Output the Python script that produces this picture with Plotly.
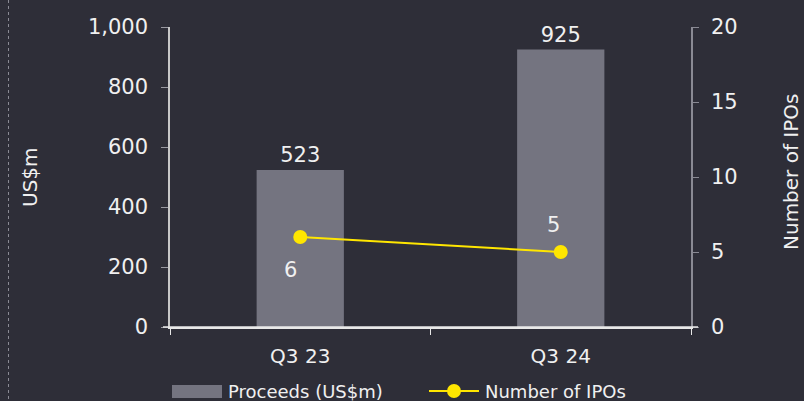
import plotly.graph_objects as go

categories = ["Q3 23", "Q3 24"]
proceeds = [523, 925]
ipos = [6, 5]
left_ticks = [0, 200, 400, 600, 800, 1000]
right_ticks = [0, 5, 10, 15, 20]

BG = "#2e2e38"
BAR = "#747480"
YEL = "#ffe600"
TXT = "#f0f0f0"
FONT = "DejaVu Sans"

W, H = 804, 401
ML, MR, MT, MB = 170, 113, 27, 74
PW, PH = W - ML - MR, H - MT - MB

def px(x):
    return (x - ML) / PW

def py(y):
    return (H - MB - y) / PH

fig = go.Figure()
fig.add_trace(go.Bar(
    x=categories, y=proceeds, marker=dict(color=BAR, line=dict(width=0)),
    width=0.335, text=[f"{v:,}" for v in proceeds], textposition="outside",
    textfont=dict(color=TXT, size=21, family=FONT), cliponaxis=False,
    showlegend=False, yaxis="y"))
fig.add_trace(go.Scatter(
    x=categories, y=ipos, mode="lines+markers", yaxis="y2",
    line=dict(color=YEL, width=2), marker=dict(color=YEL, size=14),
    showlegend=False, cliponaxis=False))

annotations = []
offsets = [(-10, -33), (-7, 27)]
for c, v, (dx, dy) in zip(categories, ipos, offsets):
    annotations.append(dict(x=c, y=v, xref="x", yref="y2", text=str(v), showarrow=False,
                            xshift=dx, yshift=dy, font=dict(color=TXT, size=21, family=FONT)))

annotations.append(dict(x=px(30), y=py(177), xref="paper", yref="paper", text="US$m",
                        textangle=-90, showarrow=False, font=dict(color=TXT, size=20, family=FONT),
                        xanchor="center", yanchor="middle"))
annotations.append(dict(x=px(791), y=py(172), xref="paper", yref="paper", text="Number of IPOs",
                        textangle=-90, showarrow=False, font=dict(color=TXT, size=20, family=FONT),
                        xanchor="center", yanchor="middle"))
# custom legend
annotations.append(dict(x=px(226), y=py(391), xref="paper", yref="paper", text="Proceeds (US$m)",
                        showarrow=False, xanchor="left", yanchor="middle",
                        font=dict(color=TXT, size=18, family=FONT)))
annotations.append(dict(x=px(483), y=py(391), xref="paper", yref="paper", text="Number of IPOs",
                        showarrow=False, xanchor="left", yanchor="middle",
                        font=dict(color=TXT, size=18, family=FONT)))

shapes = [
    dict(type="rect", xref="paper", yref="paper", x0=px(172), x1=px(222), y0=py(385), y1=py(398),
         fillcolor=BAR, line=dict(width=0)),
    dict(type="line", xref="paper", yref="paper", x0=px(429), x1=px(479), y0=py(391), y1=py(391),
         line=dict(color=YEL, width=2)),
    dict(type="circle", xref="paper", yref="paper", x0=px(447), x1=px(461), y0=py(384), y1=py(398),
         fillcolor=YEL, line=dict(width=0)),
    dict(type="line", xref="paper", yref="paper", x0=px(8.5), x1=px(8.5), y0=py(0), y1=py(401),
         line=dict(color="#8a8a94", width=1, dash="dot")),
    dict(type="line", xref="paper", yref="paper", x0=px(163), x1=px(698), y0=0, y1=0,
         line=dict(color="#e8e8e8", width=1.5)),
]

fig.update_layout(
    width=W, height=H, margin=dict(l=ML, r=MR, t=MT, b=MB),
    paper_bgcolor=BG, plot_bgcolor=BG, bargap=0.6,
    font=dict(family=FONT, color=TXT, size=20),
    xaxis=dict(type="category", range=[-0.5, 1.5], showgrid=False, showline=True,
               linecolor="#e8e8e8", linewidth=1.5, ticks="outside", tickson="boundaries",
               ticklen=6, tickcolor="#e8e8e8", tickfont=dict(size=20, color=TXT),
               ticklabelstandoff=10, zeroline=False),
    yaxis=dict(range=[0, 1000], tickvals=left_ticks, tickformat=",d", showgrid=False,
               showline=True, linecolor="#c8c8c8", linewidth=1.5, ticks="outside",
               ticklen=7, tickcolor="#9a9aa2", zeroline=False, ticklabelstandoff=9,
               tickfont=dict(size=21, color=TXT)),
    yaxis2=dict(range=[0, 20], tickvals=right_ticks, overlaying="y", side="right",
                showgrid=False, showline=True, linecolor="#8a8a94", linewidth=1.5,
                ticks="outside", ticklen=6, tickcolor="#8a8a94", zeroline=False,
                ticklabelstandoff=8, tickfont=dict(size=21, color=TXT)),
    annotations=annotations, shapes=shapes,
)

fig.write_html("out.html")
